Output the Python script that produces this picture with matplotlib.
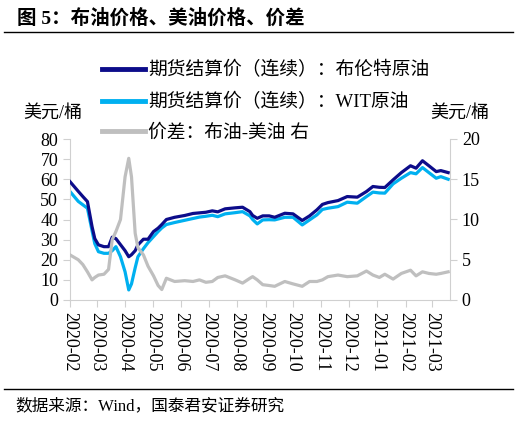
import pandas as pd
import matplotlib
matplotlib.use('Agg')
import matplotlib.pyplot as plt
import matplotlib.dates as mdates
from matplotlib.lines import Line2D

plt.rcParams['font.family'] = ['Liberation Serif', 'Noto Sans CJK SC', 'DejaVu Sans']

# 周度数据
dates = ['2020-02-01', '2020-02-10', '2020-02-15', '2020-02-20', '2020-02-25', '2020-02-28',
         '2020-03-03', '2020-03-09', '2020-03-14', '2020-03-18', '2020-03-22', '2020-03-27',
         '2020-04-01', '2020-04-05', '2020-04-08', '2020-04-12', '2020-04-15', '2020-04-21',
         '2020-04-26', '2020-05-02', '2020-05-07', '2020-05-11', '2020-05-16', '2020-05-25',
         '2020-06-05', '2020-06-14', '2020-06-21', '2020-06-28', '2020-07-05', '2020-07-11',
         '2020-07-19', '2020-07-30', '2020-08-07', '2020-08-15', '2020-08-18', '2020-08-23',
         '2020-08-29', '2020-09-05', '2020-09-11', '2020-09-22', '2020-10-01', '2020-10-11',
         '2020-10-19', '2020-10-27', '2020-11-02', '2020-11-08', '2020-11-19', '2020-11-29',
         '2020-12-10', '2020-12-20', '2020-12-27', '2021-01-03', '2021-01-09', '2021-01-18',
         '2021-01-27', '2021-02-06', '2021-02-12', '2021-02-19', '2021-02-26', '2021-03-06',
         '2021-03-11', '2021-03-19']

brent = [58.8, 54.0, 51.4, 48.9, 36.5, 30.5,
         27.4, 26.5, 26.5, 31.2, 30.5, 27.5,
         24.5, 21.5, 22.5, 24.5, 27.4, 30.2,
         30.2, 34.0, 35.7, 37.5, 40.0, 41.1,
         42.0, 43.0, 43.3, 43.6, 44.3, 43.8,
         45.3, 45.8, 46.1, 43.9, 42.0, 40.6,
         41.8, 41.8, 41.1, 43.1, 42.8, 39.5,
         41.8, 44.8, 47.5, 48.4, 49.4, 51.4,
         51.1, 53.9, 56.4, 56.0, 55.9, 59.7,
         63.3, 66.7, 65.5, 69.2, 66.7, 63.8,
         64.3, 63.3]

wti = [53.9, 49.0, 47.3, 45.6, 34.5, 28.0,
       24.0, 23.2, 23.2, 24.5, 26.5, 21.5,
       14.0, 5.0, 8.0, 16.0, 21.5, 25.5,
       28.5, 31.5, 34.0, 35.8, 37.5, 38.5,
       39.6, 40.5, 41.2, 41.6, 42.1, 41.4,
       42.8, 43.4, 43.9, 41.8, 40.0, 37.8,
       39.8, 39.9, 39.8, 41.1, 41.1, 37.3,
       39.8, 42.3, 45.0, 45.6, 46.4, 48.6,
       48.1, 51.4, 53.6, 53.2, 53.1, 57.7,
       60.5, 63.3, 62.7, 65.8, 63.3, 60.5,
       61.3, 60.0]

spread = [5.6, 5.0, 4.4, 3.5, 2.5, 2.8,
          3.1, 3.2, 3.8, 7.5, 8.5, 10.0,
          15.3, 17.6, 15.3, 8.3, 6.5, 5.6,
          4.2, 3.0, 1.8, 1.3, 2.7, 2.3,
          2.4, 2.3, 2.5, 2.2, 2.3, 2.8,
          3.0, 2.5, 2.1, 2.7, 2.9, 2.5,
          1.9, 1.8, 1.7, 2.3, 2.0, 1.7,
          2.3, 2.3, 2.5, 2.9, 3.1, 2.9,
          3.0, 3.6, 3.1, 2.8, 3.2, 2.6,
          3.3, 3.7, 3.0, 3.5, 3.3, 3.2,
          3.3, 3.5]

labels = ['期货结算价（连续）：布伦特原油', '期货结算价（连续）：WIT原油', '价差：布油-美油 右']
c_brent = '#0c0c8a'
c_wti = '#00b0f0'
c_spread = '#bfbfbf'
axis_grey = '#d0d0d0'

x = pd.to_datetime(dates)

fig = plt.figure(figsize=(5.15, 4.22), dpi=100)
ax = fig.add_axes([70 / 515, 1 - 300 / 422, 380 / 515, 161 / 422])
ax2 = ax.twinx()

ax.plot(x, brent, color=c_brent, lw=2.3, solid_joinstyle='round', zorder=3)
ax.plot(x, wti, color=c_wti, lw=2.3, solid_joinstyle='round', zorder=2)
ax2.plot(x, spread, color=c_spread, lw=2.3, solid_joinstyle='round')

ax.set_ylim(0, 80)
ax.set_yticks(range(0, 81, 10))
ax2.set_ylim(0, 20)
ax2.set_yticks(range(0, 21, 5))
ax.set_xlim(pd.Timestamp('2020-02-01'), pd.Timestamp('2021-03-21'))
ax.xaxis.set_major_locator(mdates.MonthLocator())
ax.xaxis.set_major_formatter(mdates.DateFormatter('%Y-%m'))

for a in (ax, ax2):
    a.spines['top'].set_visible(False)
    for s in ('left', 'right', 'bottom'):
        a.spines[s].set_color(axis_grey)
    a.tick_params(colors=axis_grey, labelcolor='black', labelsize=13, length=5, direction='out')
ax.spines['right'].set_visible(False)
ax2.spines['left'].set_visible(False)
ax2.spines['bottom'].set_visible(False)
ax.tick_params(axis='x', labelsize=13, pad=4)
plt.setp(ax.get_xticklabels(), rotation=270, ha='center', va='top')

# 单位
fig.text(23 / 515, 1 - 113 / 422, '美元/桶', fontsize=13, va='center', ha='left')
fig.text(430 / 515, 1 - 113 / 422, '美元/桶', fontsize=13, va='center', ha='left')

# 图例
handles = [Line2D([], [], color=c, lw=3.5) for c in (c_brent, c_wti, c_spread)]
fig.legend(handles, labels, loc='upper left', bbox_to_anchor=(94 / 515, 1 - 54 / 422),
           frameon=False, fontsize=13.5, handlelength=2.3, handletextpad=0.2,
           labelspacing=0.72, borderaxespad=0)

# 标题与来源
fig.text(17 / 515, 1 - 18 / 422, '图 5：布油价格、美油价格、价差', fontsize=14,
         fontweight='bold', va='center', ha='left')
fig.add_artist(Line2D([4 / 515, 513 / 515], [1 - 32 / 422, 1 - 32 / 422], color='black', lw=1))
fig.add_artist(Line2D([4 / 515, 513 / 515], [1 - 389 / 422, 1 - 389 / 422], color='black', lw=1))
fig.text(15 / 515, 1 - 406 / 422, '数据来源：Wind，国泰君安证券研究', fontsize=12,
         va='center', ha='left')

fig.savefig('out.png', dpi=100)
